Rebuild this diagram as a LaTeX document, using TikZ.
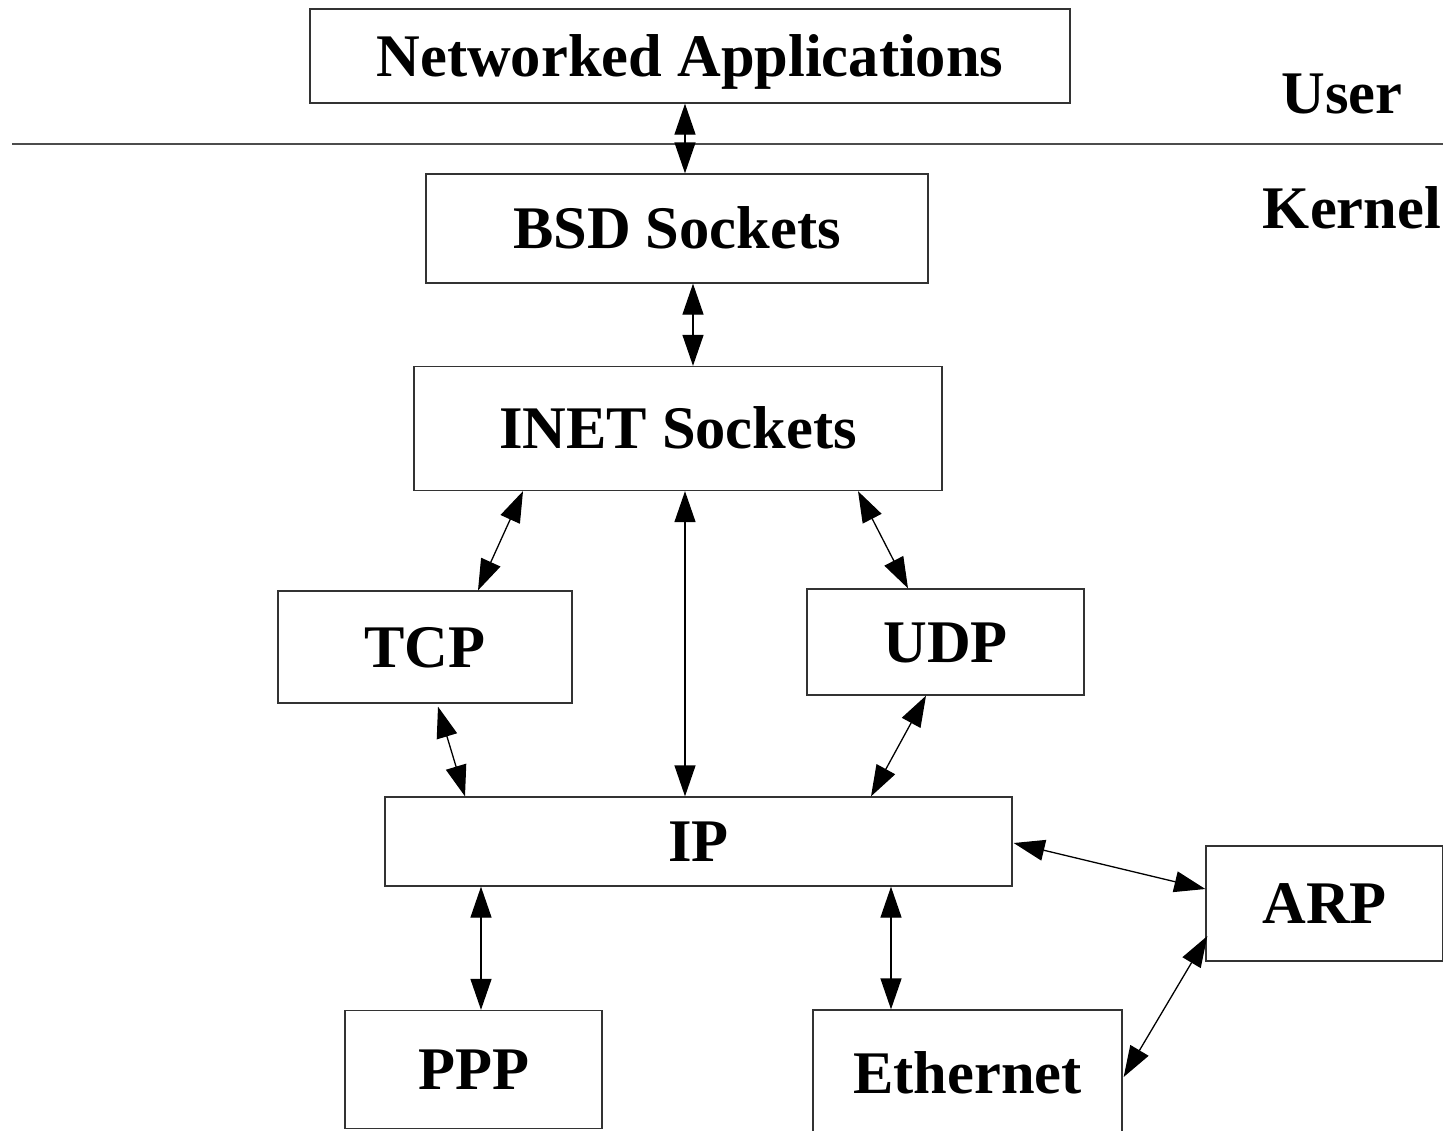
\documentclass[tikz,border=0pt]{standalone}
\usepackage{fontspec}
\setmainfont{Liberation Serif}
\usetikzlibrary{arrows.meta}
\begin{document}
\begin{tikzpicture}[x=1pt,y=-1pt,
  lbl/.style={font=\fontsize{60.5}{62}\selectfont\bfseries,inner sep=0pt,text height=40pt,text depth=0pt},
  box/.style={lbl,draw=black!80,line width=1.3pt,minimum width=#1},
  conn/.style={line width=1.3pt,{Triangle[length=31pt,width=21pt]}-{Triangle[length=31pt,width=21pt]}}]
\useasboundingbox (0,0) rectangle (1443,1130);
\clip (0,0) rectangle (1443,1130);
\fill[white] (0,0) rectangle (1443,1130);
% layer divider and labels
\coordinate (divl) at (12,144);
\coordinate (divr) at (1443,144);
\draw[draw=black!70,line width=1.3pt] (divl) -- (divr);
\node[lbl] (user) at (1342,93) {User};
\node[lbl] (kernel) at (1352,208) {Kernel};
% boxes
\node[box=760pt,minimum height=94pt] (net) at (690,56) {Networked Applications};
\node[box=502pt,minimum height=109pt] (bsd) at (677,228.5) {BSD Sockets};
\node[box=528pt,minimum height=124pt] (inet) at (678,428.5) {INET Sockets};
\node[box=294pt,minimum height=112pt] (tcp) at (425,647) {TCP};
\node[box=277pt,minimum height=106pt] (udp) at (945.5,642) {UDP};
\node[box=627pt,minimum height=89pt] (ip) at (698.5,841.5) {IP};
\node[box=237pt,minimum height=115pt] (arp) at (1324.5,903.5) {ARP};
\node[box=257pt,minimum height=118pt] (ppp) at (473.5,1069.5) {PPP};
\node[box=309pt,minimum height=126pt] (eth) at (967.5,1073) {Ethernet};
% connectors
\draw[conn] ([xshift=-5pt]net.south) -- ([xshift=8pt]bsd.north);
\draw[conn] ([xshift=16pt]bsd.south) -- ([xshift=15pt]inet.north);
\draw[conn] ([xshift=-155pt]inet.south) -- ([xshift=53pt]tcp.north);
\draw[conn] ([xshift=7pt]inet.south) -- ([xshift=-13.5pt]ip.north);
\draw[conn] ([xshift=180pt]inet.south) -- ([xshift=-37.5pt]udp.north);
\draw[conn] ([xshift=13pt,yshift=-3pt]tcp.south) -- ([xshift=-233.5pt]ip.north);
\draw[conn] ([xshift=-19.5pt]udp.south) -- ([xshift=172.5pt]ip.north);
\draw[conn] ([xshift=1pt,yshift=-1.5pt]ip.east) -- ([yshift=14.5pt]arp.west);
\draw[conn] ([xshift=-217.5pt]ip.south) -- ([xshift=7.5pt]ppp.north);
\draw[conn] ([xshift=192.5pt]ip.south) -- ([xshift=-76.5pt]eth.north);
\draw[conn] ([xshift=2pt,yshift=-32.5pt]arp.west) -- ([xshift=1pt,yshift=-4pt]eth.east);
\end{tikzpicture}
\end{document}
